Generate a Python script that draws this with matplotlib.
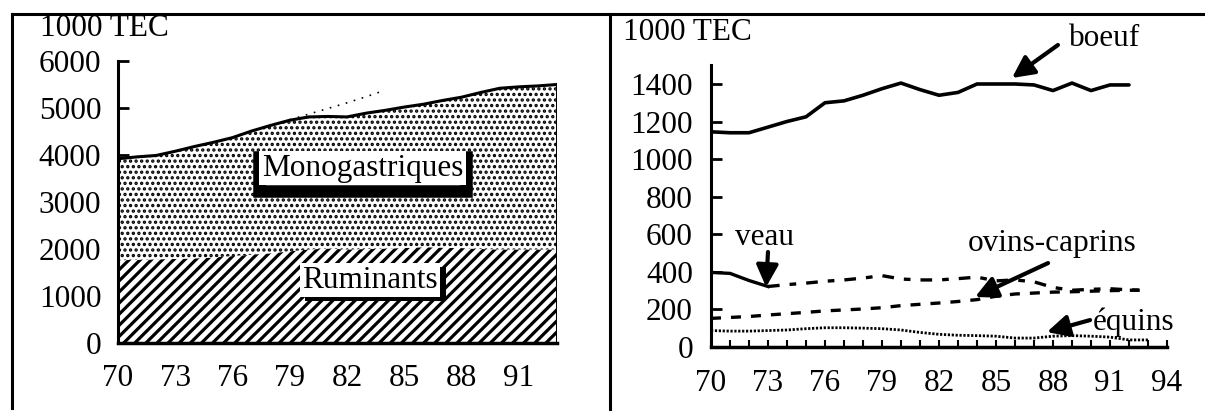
import matplotlib
matplotlib.use("Agg")
import matplotlib.pyplot as plt
import matplotlib.patheffects as pe
from matplotlib.lines import Line2D

plt.rcParams['font.family'] = ['Liberation Serif', 'DejaVu Serif']
plt.rcParams['font.size'] = 22.5

#--- left panel: ruminants / monogastriques (1000 TEC)
years_l = list(range(70, 94))
rum = [1760, 1770, 1780, 1790, 1800, 1820, 1850, 1880, 1910, 1950, 1990, 2010,
       1990, 2000, 2010, 2020, 2040, 2030, 2020, 2000, 1990, 1990, 1990, 1990]
total = [3920, 3960, 3990, 4080, 4180, 4270, 4370, 4510, 4630, 4740, 4810, 4820,
         4810, 4890, 4950, 5020, 5080, 5160, 5230, 5330, 5420, 5450, 5470, 5500]
ghost_years = [79, 80, 81, 82, 83, 84]
ghost_vals = [4750, 4870, 4990, 5110, 5240, 5380]
xt_l = [70, 73, 76, 79, 82, 85, 88, 91]
yt_l = [0, 1000, 2000, 3000, 4000, 5000, 6000]

#--- right panel: by species (1000 TEC)
years_b = list(range(70, 93))
boeuf = [1145, 1140, 1140, 1170, 1200, 1225, 1300, 1310, 1340, 1375, 1405, 1370,
         1340, 1355, 1400, 1400, 1400, 1395, 1365, 1405, 1365, 1395, 1395]
years_r = list(range(70, 94))
veau = [395, 390, 352, 320, 330, 338, 348, 355, 365, 378, 360, 355,
        355, 362, 370, 350, 355, 345, 315, 300, 305, 308, 302, 300]
ovins = [150, 155, 160, 168, 175, 182, 190, 195, 200, 207, 218, 225,
         232, 240, 250, 268, 280, 285, 290, 292, 295, 298, 300, 300]
equins = [85, 82, 82, 85, 88, 95, 100, 100, 98, 95, 88, 75,
          65, 60, 58, 55, 45, 45, 55, 58, 55, 50, 35, 35]
xt_r = [70, 73, 76, 79, 82, 85, 88, 91, 94]
yt_r = [0, 200, 400, 600, 800, 1000, 1200, 1400]

W, H = 1205, 411
fig = plt.figure(figsize=(W / 100, H / 100), dpi=100)

def px_axes(x0, x1, ytop, ybot):
    return fig.add_axes([x0 / W, 1 - ybot / H, (x1 - x0) / W, (ybot - ytop) / H])

#--- frame lines
lw_frame = 2.2
fig.add_artist(Line2D([12 / W, 12 / W], [1 - 14 / H, 1 - 408 / H], color='k', lw=lw_frame))
fig.add_artist(Line2D([12 / W, 1.0], [1 - 14 / H, 1 - 14 / H], color='k', lw=lw_frame))
fig.add_artist(Line2D([610 / W, 610 / W], [1 - 14 / H, 0.0], color='k', lw=lw_frame))

#--- left panel
ax = px_axes(118, 557, 61, 343)
ax.set_xlim(70, 93)
ax.set_ylim(0, 6000)
plt.rcParams['hatch.linewidth'] = 2.3
ax.fill_between(years_l, 0, rum, facecolor='white', edgecolor='black', hatch='///', lw=0)
plt.rcParams['hatch.linewidth'] = 1.6
ax.fill_between(years_l, rum, total, facecolor='white', edgecolor='black', hatch='...', lw=0)
ax.plot(years_l, total, color='k', lw=2.2)
ax.plot(ghost_years, ghost_vals, color='k', lw=1.2, ls=(0, (1, 4)))
ax.vlines(years_l[-1], 0, total[-1], color='k', lw=2.2)
for s in ['top', 'right']:
    ax.spines[s].set_visible(False)
ax.spines['left'].set_linewidth(2.2)
ax.spines['bottom'].set_linewidth(2.5)
ax.set_axisbelow(True)
ax.set_xticks(xt_l)
ax.set_yticks(yt_l)
ax.tick_params(axis='y', direction='in', length=8, width=2, pad=12)
ax.tick_params(axis='x', length=0, pad=15)

# label boxes
t = ax.text(82.8, 3720, 'Monogastriques', ha='center', va='center', zorder=6,
            bbox=dict(boxstyle='square,pad=0.08', fc='white', ec='none'))
t.get_bbox_patch().set_path_effects([
    pe.Stroke(offset=(0, -4), linewidth=9, foreground='k'), pe.Normal()])
t = ax.text(83.2, 1340, 'Ruminants', ha='center', va='center', zorder=6,
            bbox=dict(boxstyle='square,pad=0.08', fc='white', ec='none'))
t.get_bbox_patch().set_path_effects([
    pe.SimplePatchShadow(offset=(4, -3), shadow_rgbFace='k', alpha=1), pe.Normal()])

fig.text(40 / W, 1 - 28 / H, '1000 TEC', ha='left', va='center')

#--- right panel
ax2 = px_axes(711, 1167, 65.25, 346.5)
ax2.set_xlim(70, 94)
ax2.set_ylim(0, 1500)
ax2.plot(years_b, boeuf, color='k', lw=2.6, solid_capstyle='round')
ax2.plot(years_r[:4], veau[:4], color='k', lw=2.4)
ax2.plot(years_r[3:], veau[3:], color='k', lw=2.4, dashes=(3.5, 3, 2, 3))
ax2.plot(years_r, ovins, color='k', lw=2.4, dashes=(3, 3))
ax2.plot(years_r, equins, color='k', lw=2.0, ls=(0, (0.8, 0.6)))
for s in ['top', 'right']:
    ax2.spines[s].set_visible(False)
ax2.spines['left'].set_linewidth(2.2)
ax2.spines['bottom'].set_linewidth(2.5)
ax2.set_xticks(xt_r)
ax2.set_xticks(years_r + [94], minor=True)
ax2.set_yticks(yt_r)
ax2.tick_params(axis='y', direction='in', length=8, width=2, pad=13)
ax2.tick_params(axis='x', which='major', direction='in', length=5, width=1.5, pad=16)
ax2.tick_params(axis='x', which='minor', direction='in', length=5, width=1.5)

arrow = dict(arrowstyle='-|>,head_length=0.6,head_width=0.3', color='k', lw=3,
             shrinkA=0, shrinkB=0, mutation_scale=22)
ax2.text(90.74, 1645, 'boeuf', ha='center', va='center', clip_on=False)
ax2.annotate('', xy=(85.84, 1432), xytext=(88.26, 1608), arrowprops=arrow, annotation_clip=False)
ax2.text(72.84, 579, 'veau', ha='center', va='center')
ax2.annotate('', xy=(72.9, 317), xytext=(73.0, 504), arrowprops=arrow)
ax2.text(87.95, 552, 'ovins-caprins', ha='center', va='center')
ax2.annotate('', xy=(83.9, 264), xytext=(87.74, 445), arrowprops=arrow)
ax2.text(92.26, 131, 'équins', ha='center', va='center', clip_on=False)
ax2.annotate('', xy=(87.68, 77), xytext=(89.95, 141), arrowprops=arrow)

fig.text(623 / W, 1 - 33 / H, '1000 TEC', ha='left', va='center')

fig.savefig('out.png', dpi=100)
